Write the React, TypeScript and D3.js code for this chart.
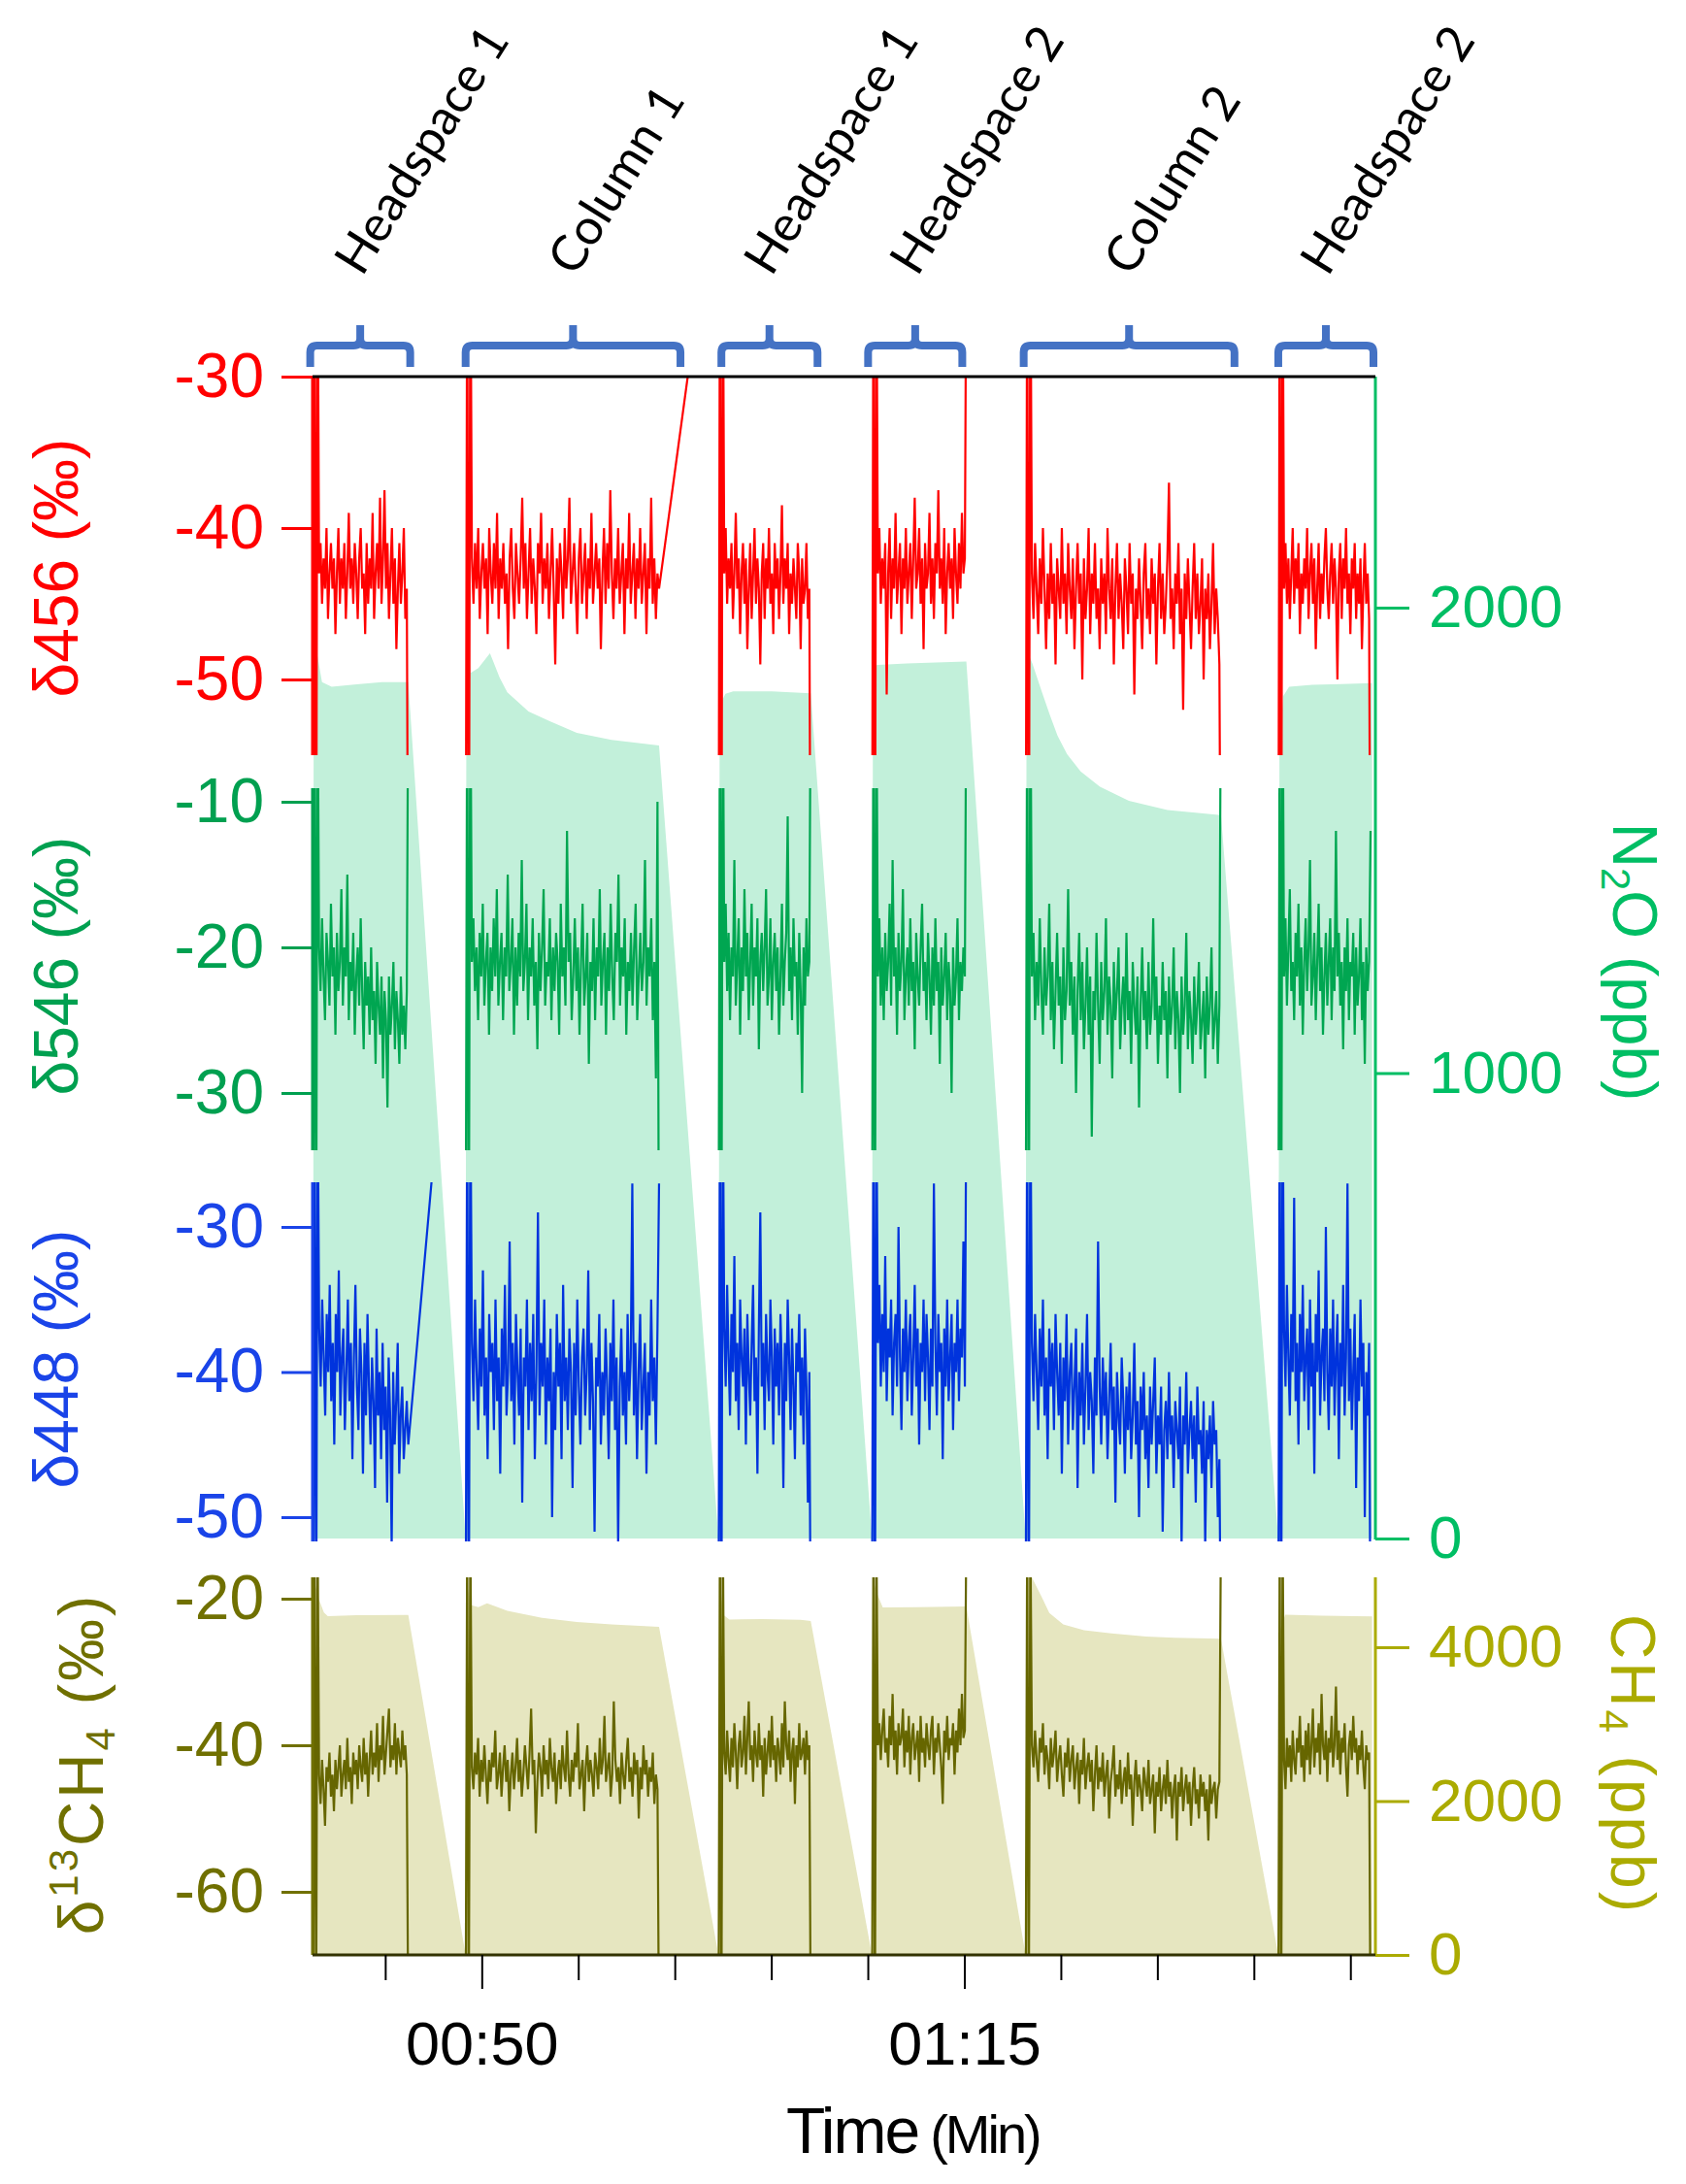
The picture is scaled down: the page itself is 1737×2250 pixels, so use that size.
import { useEffect, useRef } from "react";
import * as d3 from "d3";

// sample windows (minutes) for each injection
const segStart = [41.24, 49.14, 62.24, 70.19, 78.15, 91.24];
const segEnd = [46.17, 59.16, 67.02, 75.08, 88.27, 96.02];

// bracket annotations
const bracketStart = [41.09, 49.14, 62.39, 69.99, 78.05, 91.24];
const bracketEnd = [46.27, 60.27, 67.37, 74.87, 88.97, 96.17];
const bracketLabels = ["Headspace 1", "Column 1", "Headspace 1", "Headspace 2", "Column 2", "Headspace 2"];

// δ456 (‰), evenly sampled over each window (leading/trailing values are off-scale transients)
const d456 = [
  [-70, -20, -70, -20, -43, -41, -45, -42, -44, -40, -46, -43, -41, -44, -42, -47, -43, -40, -45, -42, -44, -41, -46, -43, -39, -44, -42, -45, -41, -43, -46, -42, -40, -44, -43, -47, -41, -45, -42, -44, -39, -46, -43, -41, -44, -38, -45, -42, -37.5, -44, -41, -46, -43, -40, -45, -42, -48, -44, -41, -45, -43, -40, -46, -44, -70],
  [-70, -20, -70, -20, -42, -45, -41, -44, -40, -46, -43, -41, -44, -42, -47, -40, -43, -45, -41, -44, -39, -46, -42, -44, -41, -45, -43, -48, -42, -40, -44, -46, -41, -43, -45, -42, -38, -44, -41, -46, -43, -40, -45, -42, -44, -47, -41, -43, -39, -45, -42, -44, -41, -46, -43, -40, -44, -49, -42, -45, -41, -43, -46, -40, -44, -42, -38, -45, -43, -41, -44, -47, -42, -40, -45, -43, -41, -46, -42, -44, -39, -45, -43, -41, -44, -42, -48, -43, -40, -45, -41, -44, -37.5, -43, -46, -42, -44, -40, -45, -43, -41, -47, -42, -44, -39, -45, -43, -41, -46, -42, -44, -40, -45, -43, -41, -47, -42, -44, -38, -45, -42, -46, -43, -44],
  [-70, -20, -70, -20, -43, -40, -45, -42, -44, -41, -46, -43, -39, -44, -42, -47, -43, -41, -45, -42, -48, -44, -41, -46, -43, -40, -45, -42, -44, -49, -43, -41, -46, -42, -44, -40, -45, -43, -47, -41, -44, -42, -46, -43, -38.5, -45, -42, -44, -41, -47, -43, -45, -42, -44, -46, -41, -43, -48, -42, -45, -44, -41, -46, -44, -70],
  [-70, -20, -70, -20, -43, -40, -45, -42, -44, -41, -51, -43, -40, -46, -42, -44, -39, -45, -43, -41, -47, -42, -44, -40, -45, -43, -41, -46, -42, -38, -44, -43, -40, -45, -42, -48, -41, -44, -43, -39, -45, -42, -46, -41, -43, -37.5, -44, -42, -45, -40, -47, -43, -41, -44, -42, -46, -40, -43, -45, -41, -44, -39, -43, -42, -20],
  [-70, -20, -70, -20, -43, -46, -41, -44, -47, -42, -45, -40, -44, -48, -43, -46, -41, -45, -43, -49, -42, -44, -46, -40, -45, -43, -47, -41, -44, -46, -42, -48, -44, -41, -45, -43, -50, -42, -46, -44, -40, -47, -43, -45, -41, -46, -44, -48, -42, -45, -43, -47, -40, -44, -46, -42, -49, -44, -41, -46, -43, -45, -48, -42, -44, -47, -41, -45, -43, -51, -44, -46, -42, -45, -48, -43, -41, -46, -44, -47, -42, -45, -43, -49, -44, -41, -46, -43, -47, -45, -42, -37, -46, -44, -48, -43, -45, -41, -47, -44, -52, -43, -46, -42, -45, -48, -44, -41, -46, -43, -47, -45, -42, -50, -44, -46, -43, -48, -45, -41, -47, -44, -46, -49, -70],
  [-70, -20, -70, -20, -44, -41, -45, -42, -46, -43, -40, -45, -42, -44, -41, -47, -43, -45, -42, -44, -40, -46, -43, -41, -45, -42, -48, -44, -41, -46, -43, -45, -42, -40, -44, -46, -43, -41, -45, -42, -44, -50, -43, -41, -46, -42, -44, -40, -45, -43, -47, -42, -44, -41, -46, -43, -45, -42, -48, -44, -41, -45, -43, -46, -70],
];

// δ546 (‰)
const d546 = [
  [-45, 0, -45, 0, -20, -23, -18, -22, -25, -19, -21, -24, -17, -22, -20, -26, -19, -23, -21, -16, -24, -20, -22, -15, -25, -21, -23, -19, -26, -22, -20, -24, -18, -23, -27, -21, -24, -22, -26, -20, -25, -23, -28, -21, -24, -26, -22, -29, -23, -25, -31, -22, -26, -24, -21, -27, -23, -25, -28, -22, -26, -24, -27, -23, 0],
  [-45, 0, -45, 0, -21, -18, -23, -20, -25, -19, -22, -17, -24, -21, -19, -26, -20, -23, -18, -22, -16, -24, -21, -19, -25, -20, -22, -15, -23, -21, -18, -26, -20, -24, -19, -22, -14, -23, -21, -17, -25, -20, -22, -18, -24, -21, -27, -19, -23, -20, -16, -24, -21, -22, -18, -25, -20, -23, -19, -21, -26, -17, -22, -20, -24, -12, -21, -19, -25, -22, -18, -23, -20, -26, -21, -17, -24, -22, -19, -28, -21, -23, -18, -25, -20, -22, -16, -24, -21, -19, -26, -20, -23, -17, -22, -25, -19, -21, -15, -24, -20, -22, -18, -26, -21, -23, -19, -24, -20, -17, -25, -22, -19, -23, -21, -14, -24, -20, -22, -18, -25, -21, -29, -10, -45],
  [-45, 0, -45, 0, -21, -17, -23, -19, -25, -20, -22, -14, -24, -21, -18, -26, -20, -23, -16, -22, -19, -25, -21, -17, -24, -20, -22, -18, -27, -21, -19, -23, -20, -16, -24, -22, -18, -25, -21, -19, -23, -20, -26, -22, -17, -24, -21, -19, -11, -23, -20, -25, -18, -22, -21, -26, -19, -23, -30, -20, -24, -18, -22, -21, 0],
  [-45, 0, -45, 0, -22, -18, -24, -20, -25, -19, -23, -21, -17, -24, -14, -22, -20, -26, -19, -23, -21, -16, -25, -22, -20, -24, -18, -23, -21, -27, -19, -22, -24, -20, -17, -23, -21, -25, -19, -22, -26, -20, -24, -18, -23, -21, -28, -20, -24, -22, -19, -25, -21, -23, -30, -20, -24, -22, -18, -25, -21, -23, -20, -22, 0],
  [-45, 0, -45, 0, -22, -19, -25, -21, -24, -18, -23, -26, -20, -24, -22, -17, -25, -21, -27, -23, -19, -24, -22, -28, -20, -25, -23, -16, -24, -21, -26, -22, -30, -23, -19, -25, -21, -27, -24, -20, -26, -22, -33, -23, -25, -19, -24, -28, -21, -25, -23, -18, -26, -22, -24, -29, -21, -25, -23, -20, -27, -24, -22, -26, -19, -25, -23, -28, -21, -24, -26, -22, -31, -24, -20, -25, -23, -27, -21, -26, -24, -18, -25, -22, -28, -24, -26, -21, -25, -23, -29, -22, -26, -24, -20, -27, -23, -25, -30, -22, -26, -24, -19, -27, -23, -25, -28, -22, -26, -24, -21, -27, -25, -23, -29, -22, -26, -24, -20, -27, -25, -23, -28, -24, 0],
  [-45, 0, -45, 0, -22, -18, -24, -20, -16, -23, -21, -25, -19, -22, -17, -24, -20, -26, -21, -18, -23, -20, -14, -24, -22, -19, -25, -21, -17, -23, -20, -26, -22, -19, -24, -21, -18, -25, -20, -23, -12, -22, -19, -24, -21, -27, -20, -23, -18, -25, -21, -22, -19, -26, -20, -24, -22, -18, -25, -21, -28, -20, -23, -21, -12],
];

// δ448 (‰)
const d448 = [
  [-60, -20, -60, -20, -37, -41, -35, -39, -43, -36, -40, -34, -42, -38, -45, -36, -40, -33, -43, -39, -37, -44, -40, -35, -42, -38, -46, -39, -34, -41, -44, -37, -40, -47, -38, -43, -36, -41, -45, -39, -42, -48, -37, -43, -40, -46, -38, -44, -41, -49, -39, -43, -52, -40, -45, -42, -38, -47, -43, -41, -46, -44, -42, -45],
  [-60, -20, -60, -20, -38, -42, -35, -40, -44, -37, -41, -33, -43, -39, -46, -36, -40, -38, -44, -35, -42, -39, -47, -37, -41, -34, -43, -40, -31, -42, -38, -45, -36, -40, -43, -37, -49, -39, -41, -35, -44, -38, -42, -36, -46, -40, -29, -43, -38, -41, -35, -45, -39, -42, -37, -50, -40, -44, -36, -41, -38, -46, -34, -42, -39, -44, -37, -40, -48, -38, -43, -35, -41, -45, -39, -37, -43, -40, -33, -44, -38, -42, -51, -39, -41, -36, -45, -40, -43, -37, -41, -46, -38, -42, -35, -44, -39, -52, -41, -37, -43, -40, -45, -36, -42, -39, -27, -43, -38, -46, -40, -36, -44, -41, -38, -47, -40, -43, -35, -42, -39, -45, -37, -27],
  [-60, -20, -60, -20, -37, -41, -34, -39, -43, -36, -40, -32, -42, -38, -44, -35, -39, -41, -37, -45, -36, -40, -43, -38, -34, -42, -39, -47, -37, -29, -41, -38, -44, -36, -40, -42, -35, -39, -45, -37, -41, -38, -43, -36, -40, -48, -38, -42, -35, -39, -44, -37, -41, -46, -38, -40, -36, -43, -39, -45, -37, -41, -49, -40, -60],
  [-60, -20, -60, -20, -38, -34, -41, -36, -40, -32, -42, -37, -39, -35, -43, -38, -36, -41, -30, -39, -44, -37, -40, -35, -42, -38, -36, -43, -39, -34, -41, -37, -45, -38, -40, -35, -42, -36, -39, -44, -37, -41, -27, -38, -43, -36, -40, -38, -46, -37, -41, -35, -42, -39, -36, -44, -38, -40, -35, -42, -37, -39, -31, -41, -20],
  [-60, -20, -60, -20, -38, -42, -36, -40, -44, -37, -41, -35, -43, -39, -46, -37, -41, -38, -44, -36, -40, -43, -38, -47, -39, -42, -36, -45, -40, -38, -44, -41, -37, -48, -40, -43, -38, -45, -41, -36, -44, -40, -42, -47, -39, -43, -31, -41, -45, -39, -43, -40, -46, -42, -38, -44, -41, -49, -40, -43, -45, -39, -42, -47, -41, -44, -40, -46, -43, -38, -45, -42, -50, -41, -44, -40, -46, -43, -48, -41, -45, -42, -39, -47, -43, -45, -41, -51, -44, -42, -46, -40, -45, -43, -48, -42, -44, -46, -41, -52, -43, -45, -40, -47, -44, -42, -46, -43, -49, -41, -45, -44, -47, -42, -52, -44, -46, -43, -48, -42, -45, -44, -50, -46, -60],
  [-60, -20, -60, -20, -37, -41, -34, -39, -43, -36, -40, -28, -42, -38, -45, -36, -40, -34, -42, -39, -37, -44, -35, -41, -38, -47, -36, -40, -33, -43, -39, -37, -42, -30, -40, -44, -37, -41, -35, -43, -39, -36, -46, -38, -41, -34, -43, -39, -27, -42, -37, -44, -40, -36, -48, -39, -42, -35, -41, -38, -50, -40, -43, -38, -60],
];

// δ13CH4 (‰)
const d13ch4 = [
  [-80, -10, -80, -10, -44, -48, -42, -46, -51, -43, -45, -41, -47, -44, -49, -42, -46, -43, -40, -47, -44, -42, -46, -39, -45, -43, -48, -41, -44, -42, -46, -40, -43, -45, -39, -44, -41, -47, -42, -38, -44, -41, -43, -37, -45, -40, -42, -36, -44, -41, -38, -35, -43, -40, -42, -37, -44, -39, -41, -43, -38, -42, -40, -44, -80],
  [-80, -10, -80, -10, -43, -46, -41, -44, -39, -47, -42, -45, -40, -44, -48, -42, -45, -41, -43, -38, -46, -44, -41, -47, -43, -40, -45, -42, -49, -44, -41, -46, -43, -39, -45, -42, -47, -44, -40, -43, -46, -41, -35, -44, -42, -52, -45, -41, -43, -47, -40, -44, -42, -46, -39, -43, -45, -41, -48, -44, -42, -46, -40, -43, -45, -38, -44, -47, -42, -45, -41, -43, -37, -46, -44, -42, -49, -43, -40, -45, -42, -44, -47, -41, -43, -46, -39, -44, -42, -36, -45, -43, -41, -47, -44, -34, -42, -45, -43, -48, -41, -44, -46, -42, -39, -45, -43, -47, -41, -44, -42, -50, -43, -46, -40, -44, -42, -47, -43, -45, -41, -48, -44, -46, -80],
  [-80, -10, -80, -10, -41, -44, -38, -42, -45, -39, -43, -37, -41, -46, -40, -38, -43, -41, -36, -44, -39, -34, -42, -40, -45, -38, -41, -43, -37, -42, -40, -47, -39, -44, -41, -38, -43, -36, -42, -40, -45, -39, -41, -44, -37, -43, -34, -40, -42, -38, -45, -41, -39, -48, -40, -43, -37, -42, -41, -39, -44, -38, -42, -40, -80],
  [-80, -10, -80, -10, -40, -37, -42, -38, -35, -41, -39, -43, -36, -40, -33, -42, -38, -44, -37, -40, -39, -35, -43, -38, -41, -36, -44, -39, -37, -42, -40, -38, -45, -36, -41, -39, -43, -37, -40, -42, -38, -36, -44, -39, -41, -37, -40, -43, -48, -38, -41, -36, -42, -39, -40, -37, -44, -38, -41, -35, -40, -33, -39, -38, -10],
  [-80, -10, -80, -10, -40, -43, -38, -42, -45, -39, -41, -37, -44, -40, -42, -46, -39, -43, -41, -38, -45, -42, -40, -44, -47, -41, -43, -39, -45, -42, -40, -46, -43, -41, -48, -42, -44, -39, -46, -43, -41, -45, -42, -49, -44, -40, -46, -43, -45, -41, -47, -44, -42, -50, -45, -43, -40, -47, -44, -46, -42, -48, -45, -43, -47, -41, -46, -44, -51, -45, -42, -47, -44, -46, -49, -43, -45, -47, -42, -48, -46, -44, -52, -45, -47, -43, -49, -46, -44, -48, -42, -47, -45, -50, -46, -44, -53, -45, -47, -43, -49, -46, -44, -48, -45, -51, -46, -43, -48, -46, -50, -44, -47, -45, -49, -46, -53, -44, -48, -46, -45, -50, -46, -45, -10],
  [-80, -10, -80, -10, -42, -46, -39, -43, -40, -45, -38, -42, -44, -39, -41, -36, -43, -40, -45, -38, -42, -37, -44, -40, -35, -43, -39, -41, -37, -44, -33, -40, -42, -38, -45, -39, -41, -36, -43, -40, -32, -42, -38, -44, -39, -41, -37, -43, -47, -40, -38, -42, -36, -41, -39, -44, -40, -42, -38, -43, -46, -40, -42, -41, -80],
];

// drift after a window, toward an off-scale reading
const tails = [
  { series: "d456", seg: 1, t: 62.24, v: -15 },
  { series: "d448", seg: 0, t: 47.5, v: -25 },
];

// N2O concentration (ppb)
const n2oTime = [41.24, 41.27, 41.45, 41.7, 42.2, 43.5, 44.8, 46.17,
  49.14, 49.18, 49.4, 49.8, 50.4, 50.9, 51.3, 52.4, 53.5, 54.9, 56.7, 59.16,
  62.24, 62.3, 62.6, 63, 65, 67.02,
  70.19, 70.24, 70.5, 72, 73.5, 75.08,
  78.15, 78.2, 78.5, 79, 79.4, 79.8, 80.3, 81, 82, 83.5, 85.5, 88.27,
  91.24, 91.3, 91.5, 91.8, 93, 94.5, 96.1];
const n2oPpb = [0, 1960, 1900, 1840, 1830, 1835, 1840, 1840,
  0, 1960, 1860, 1870, 1902, 1850, 1818, 1777, 1756, 1731, 1716, 1704,
  0, 1790, 1815, 1820, 1820, 1816,
  0, 1875, 1877, 1880, 1882, 1884,
  0, 1910, 1880, 1818, 1770, 1725, 1685, 1648, 1615, 1585, 1565, 1554,
  0, 1700, 1810, 1830, 1834, 1836, 1838];

// CH4 concentration (ppb)
const ch4Time = [41.24, 41.27, 41.5, 41.8, 42.0, 43.5, 46.17,
  49.14, 49.17, 49.4, 49.8, 50.25, 51.3, 53.1, 54.9, 56.7, 59.16,
  62.24, 62.27, 62.5, 62.8, 64.5, 66.5, 67.02,
  70.19, 70.22, 70.45, 70.75, 72.5, 75.08,
  78.15, 78.18, 78.48, 79.02, 79.38, 80.1, 81.18, 82.6, 84.4, 85.85, 88.27,
  91.24, 91.3, 91.6, 93.5, 96.1];
const ch4Ppb = [0, 4900, 4650, 4450, 4405, 4415, 4420,
  0, 4900, 4550, 4520, 4570, 4474, 4381, 4327, 4298, 4264,
  0, 4900, 4420, 4360, 4365, 4355, 4340,
  0, 4900, 4700, 4516, 4522, 4530,
  0, 4906, 4906, 4633, 4444, 4298, 4222, 4180, 4138, 4122, 4109,
  0, 4200, 4423, 4410, 4400];

const xTicks = [45, 50, 55, 60, 65, 70, 75, 80, 85, 90, 95];
const xMajor = [50, 75];
const xMajorLabels = ["00:50", "01:15"];
const d456Ticks = [-30, -40, -50];
const d546Ticks = [-10, -20, -30];
const d448Ticks = [-30, -40, -50];
const n2oTicks = [0, 1000, 2000];
const d13Ticks = [-20, -40, -60];
const ch4Ticks = [0, 2000, 4000];

interface Pt {
  t: number;
  v: number;
}

const FONT = "'Liberation Sans', Arial, sans-serif";

export default function App() {
  const svgRef = useRef<SVGSVGElement>(null);

  useEffect(() => {
    if (!svgRef.current) return;
    const svg = d3.select(svgRef.current);
    svg.selectAll("*").remove();

    const left = 322;
    const right = 1417;

    const x = d3.scaleLinear().domain([41.21, 96.17]).range([322, 1415]);
    const y456 = d3.scaleLinear().domain([-30, -50]).range([388, 700]);
    const y546 = d3.scaleLinear().domain([-10, -30]).range([826, 1126]);
    const y448 = d3.scaleLinear().domain([-30, -50]).range([1264, 1563]);
    const yN2O = d3.scaleLinear().domain([0, 2000]).range([1585, 626]);
    const y13 = d3.scaleLinear().domain([-20, -60]).range([1647, 1949]);
    const yCH4 = d3.scaleLinear().domain([0, 4000]).range([2014, 1697]);

    const defs = svg.append("defs");
    const clips: [string, number, number][] = [
      ["clip-456", 388, 778],
      ["clip-546", 812, 1185],
      ["clip-448", 1218, 1588],
      ["clip-n2o", 388, 1585],
      ["clip-ch4", 1625, 2014],
    ];
    clips.forEach(([id, y0, y1]) => {
      defs
        .append("clipPath")
        .attr("id", id)
        .append("rect")
        .attr("x", left)
        .attr("y", y0)
        .attr("width", right - left - 2)
        .attr("height", y1 - y0);
    });

    // concentration fills
    const n2oPts: Pt[] = n2oTime.map((t, i) => ({ t, v: n2oPpb[i] }));
    svg
      .append("path")
      .datum(n2oPts)
      .attr("clip-path", "url(#clip-n2o)")
      .attr("fill", "#c2f0da")
      .attr(
        "d",
        d3
          .area<Pt>()
          .x((d) => x(d.t))
          .y0(yN2O(0))
          .y1((d) => yN2O(d.v))
      );

    const ch4Pts: Pt[] = ch4Time.map((t, i) => ({ t, v: ch4Ppb[i] }));
    svg
      .append("path")
      .datum(ch4Pts)
      .attr("clip-path", "url(#clip-ch4)")
      .attr("fill", "#e6e6c0")
      .attr(
        "d",
        d3
          .area<Pt>()
          .x((d) => x(d.t))
          .y0(yCH4(0))
          .y1((d) => yCH4(d.v))
      );

    // isotope traces
    const drawSeries = (
      name: string,
      segs: number[][],
      y: d3.ScaleLinear<number, number>,
      color: string,
      clipId: string
    ) => {
      const g = svg.append("g").attr("clip-path", `url(#${clipId})`);
      const line = d3
        .line<Pt>()
        .x((d) => x(d.t))
        .y((d) => y(d.v));
      segs.forEach((vals, k) => {
        const step = (segEnd[k] - segStart[k]) / (vals.length - 1);
        const pts: Pt[] = vals.map((v, i) => ({ t: segStart[k] + i * step, v }));
        tails
          .filter((d) => d.series === name && d.seg === k)
          .forEach((d) => pts.push({ t: d.t, v: d.v }));
        g.append("path")
          .datum(pts)
          .attr("fill", "none")
          .attr("stroke", color)
          .attr("stroke-width", 2.2)
          .attr("d", line);
      });
    };

    drawSeries("d456", d456, y456, "#ff0000", "clip-456");
    drawSeries("d546", d546, y546, "#00a651", "clip-546");
    drawSeries("d448", d448, y448, "#0033dd", "clip-448");
    drawSeries("d13ch4", d13ch4, y13, "#666600", "clip-ch4");

    // axes
    const leftAxis = (
      y: d3.ScaleLinear<number, number>,
      ticks: number[],
      color: string,
      y0: number,
      y1: number
    ) => {
      const g = svg.append("g").attr("transform", `translate(${left},0)`);
      g.call(d3.axisLeft(y).tickValues(ticks).tickSize(32).tickPadding(18).tickFormat(d3.format("d")));
      g.select(".domain").remove();
      g.selectAll(".tick line").attr("stroke", color).attr("stroke-width", 3);
      g.selectAll(".tick text")
        .attr("fill", color)
        .style("font-family", FONT)
        .style("font-size", "64px")
        .text((d: any) => (d < 0 ? "-" + Math.abs(d) : String(d)));
      svg
        .append("line")
        .attr("x1", left)
        .attr("x2", left)
        .attr("y1", y0)
        .attr("y2", y1)
        .attr("stroke", color)
        .attr("stroke-width", 3);
    };

    const rightAxis = (
      y: d3.ScaleLinear<number, number>,
      ticks: number[],
      color: string,
      y0: number,
      y1: number
    ) => {
      const g = svg.append("g").attr("transform", `translate(${right},0)`);
      g.call(d3.axisRight(y).tickValues(ticks).tickSize(35).tickPadding(20).tickFormat(d3.format("d")));
      g.select(".domain").remove();
      g.selectAll(".tick line").attr("stroke", color).attr("stroke-width", 3);
      g.selectAll(".tick text")
        .attr("fill", color)
        .style("font-family", FONT)
        .style("font-size", "62px");
      svg
        .append("line")
        .attr("x1", right)
        .attr("x2", right)
        .attr("y1", y0)
        .attr("y2", y1)
        .attr("stroke", color)
        .attr("stroke-width", 3);
    };

    leftAxis(y456, d456Ticks, "#ff0000", 388, 778);
    leftAxis(y546, d546Ticks, "#00a050", 812, 1185);
    leftAxis(y448, d448Ticks, "#1a44e8", 1218, 1588);
    leftAxis(y13, d13Ticks, "#707000", 1625, 2014);
    rightAxis(yN2O, n2oTicks, "#00be64", 388, 1586);
    rightAxis(yCH4, ch4Ticks, "#abab00", 1625, 2015);

    // frame lines
    svg
      .append("line")
      .attr("x1", left)
      .attr("x2", right)
      .attr("y1", 388)
      .attr("y2", 388)
      .attr("stroke", "#000")
      .attr("stroke-width", 3);
    svg
      .append("line")
      .attr("x1", left)
      .attr("x2", right)
      .attr("y1", 2014)
      .attr("y2", 2014)
      .attr("stroke", "#333300")
      .attr("stroke-width", 3);

    // time axis
    svg
      .append("g")
      .selectAll("line")
      .data(xTicks)
      .join("line")
      .attr("x1", (d) => x(d))
      .attr("x2", (d) => x(d))
      .attr("y1", 2014)
      .attr("y2", (d) => (xMajor.includes(d) ? 2049 : 2040))
      .attr("stroke", "#000")
      .attr("stroke-width", 2);
    svg
      .append("g")
      .selectAll("text")
      .data(xMajor)
      .join("text")
      .attr("x", (d) => x(d))
      .attr("y", 2127)
      .attr("text-anchor", "middle")
      .style("font-family", FONT)
      .style("font-size", "63px")
      .attr("fill", "#000")
      .text((d, i) => xMajorLabels[i]);

    const tl = svg
      .append("text")
      .attr("x", 810)
      .attr("y", 2218)
      .style("font-family", FONT)
      .attr("fill", "#000");
    tl.append("tspan").style("font-size", "66px").attr("letter-spacing", -2).text("Time");
    tl.append("tspan").attr("dx", 12).style("font-size", "56px").attr("letter-spacing", -3).text("(Min)");

    // axis titles
    const vTitle = (xPos: number, yPos: number, angle: number, color: string) =>
      svg
        .append("text")
        .attr("transform", `translate(${xPos},${yPos}) rotate(${angle})`)
        .attr("text-anchor", "middle")
        .attr("fill", color)
        .style("font-family", FONT)
        .style("font-size", "64px");

    vTitle(80, 585, -90, "#ff0000").text("δ456 (‰)");
    vTitle(80, 995, -90, "#00a050").text("δ546 (‰)");
    vTitle(80, 1400, -90, "#1a44e8").text("δ448 (‰)");

    const t13 = vTitle(106, 1817, -90, "#707000").attr("letter-spacing", 3);
    t13.append("tspan").text("δ");
    t13.append("tspan").attr("dy", -26).style("font-size", "42px").text("13");
    t13.append("tspan").attr("dy", 26).text("CH");
    t13.append("tspan").attr("dy", 12).style("font-size", "42px").text("4");
    t13.append("tspan").attr("dy", -12).text(" (‰)");

    const tn = vTitle(1662, 991, 90, "#00be64");
    tn.append("tspan").text("N");
    tn.append("tspan").attr("dy", 12).style("font-size", "42px").text("2");
    tn.append("tspan").attr("dy", -12).text("O (ppb)");

    const tc = vTitle(1660, 1818, 90, "#abab00").attr("letter-spacing", 3);
    tc.append("tspan").text("CH");
    tc.append("tspan").attr("dy", 12).style("font-size", "42px").text("4");
    tc.append("tspan").attr("dy", -12).text(" (ppb)");

    // brackets and labels
    const bg = svg.append("g");
    bracketLabels.forEach((label, i) => {
      const x0 = x(bracketStart[i]);
      const x1 = x(bracketEnd[i]);
      const m = (x0 + x1) / 2;
      const yb = 378;
      const yh = 356;
      const yt = 335;
      const r = 7;
      bg.append("path")
        .attr(
          "d",
          `M${x0},${yb} L${x0},${yh + r} Q${x0},${yh} ${x0 + r},${yh} L${m - r},${yh} Q${m},${yh} ${m},${yh - r} L${m},${yt}` +
            ` M${m},${yh - r} Q${m},${yh} ${m + r},${yh} L${x1 - r},${yh} Q${x1},${yh} ${x1},${yh + r} L${x1},${yb}`
        )
        .attr("fill", "none")
        .attr("stroke", "#4472c4")
        .attr("stroke-width", 8);
      bg.append("text")
        .attr("transform", `translate(${m + 2},286) rotate(-58)`)
        .attr("fill", "#000")
        .style("font-family", "Lato, 'Open Sans', sans-serif")
        .style("font-size", "51px")
        .text(label);
    });
  }, []);

  return (
    <svg
      ref={svgRef}
      width={1737}
      height={2250}
      style={{ position: "absolute", left: 0, top: 0, background: "#fff" }}
    ></svg>
  );
}
